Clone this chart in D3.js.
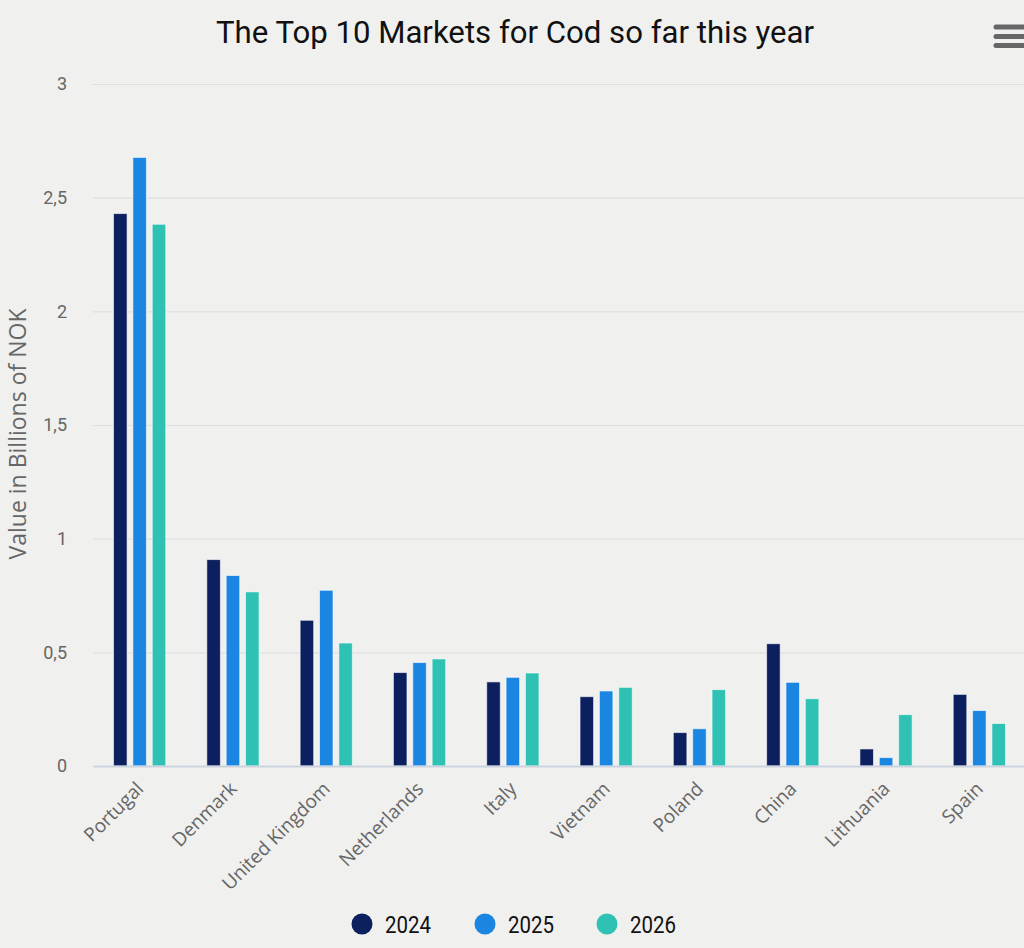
<!DOCTYPE html>
<html>
<head>
<meta charset="utf-8">
<script src="https://cdn.jsdelivr.net/npm/d3@7"></script>
<style>
  html, body { margin: 0; padding: 0; background: #f0f0ee; }
  svg { display: block; }
</style>
</head>
<body>
<svg id="chart" width="1024" height="948"></svg>
<script>
const categories = ['Portugal', 'Denmark', 'United Kingdom', 'Netherlands', 'Italy',
  'Vietnam', 'Poland', 'China', 'Lithuania', 'Spain'];
const seriesNames = ['2024', '2025', '2026'];
const values2024 = [2.43, 0.908, 0.641, 0.411, 0.370, 0.305, 0.147, 0.538, 0.075, 0.315];
const values2025 = [2.677, 0.838, 0.773, 0.455, 0.390, 0.330, 0.164, 0.368, 0.037, 0.244];
const values2026 = [2.383, 0.766, 0.541, 0.471, 0.409, 0.346, 0.336, 0.296, 0.226, 0.187];
const yTicks = [0, 0.5, 1, 1.5, 2, 2.5, 3];
const colors = ['#0c1f5e', '#1a86e2', '#2fc2b4'];

const seriesValues = [values2024, values2025, values2026];
const rows = categories.map((c, i) => ({
  name: c,
  vals: seriesNames.map((s, j) => ({ key: s, value: seriesValues[j][i] }))
}));

const svg = d3.select('#chart');
const margin = { top: 84, right: -2, bottom: 182, left: 93 };
const width = 1024 - margin.left - margin.right;
const height = 948 - margin.top - margin.bottom;

const x = d3.scaleBand().domain(categories).range([0, width]).paddingInner(0.44).paddingOuter(0.22);
const xInner = d3.scaleBand().domain(seriesNames).range([0, x.bandwidth()]).paddingInner(0.3);
const y = d3.scaleLinear().domain([0, 3]).range([height, 0]);
const color = d3.scaleOrdinal().domain(seriesNames).range(colors);
const fmt = d => String(d).replace('.', ',');

// title (reference font is condensed, so squeeze to its width)
svg.append('text')
  .attr('x', 515)
  .attr('y', 43)
  .attr('text-anchor', 'middle')
  .attr('textLength', 598)
  .attr('lengthAdjust', 'spacingAndGlyphs')
  .style('font-family', 'Roboto, sans-serif')
  .style('font-size', '32px')
  .style('fill', '#111')
  .text('The Top 10 Markets for Cod so far this year');

// menu icon
svg.append('g')
  .selectAll('line')
  .data([27, 36.5, 45.5])
  .join('line')
  .attr('x1', 996).attr('x2', 1030)
  .attr('y1', d => d).attr('y2', d => d)
  .attr('stroke', '#666')
  .attr('stroke-width', 5)
  .attr('stroke-linecap', 'round');

const g = svg.append('g').attr('transform', `translate(${margin.left},${margin.top})`);

// grid
g.append('g')
  .attr('class', 'grid')
  .call(d3.axisLeft(y).tickValues(yTicks).tickSize(-width).tickFormat(''))
  .call(s => s.select('.domain').remove())
  .call(s => s.selectAll('.tick line').attr('stroke', '#dedfdf').attr('stroke-width', 1.2));

// y axis labels
g.append('g')
  .call(d3.axisLeft(y).tickValues(yTicks).tickSize(0).tickPadding(26).tickFormat(fmt))
  .call(s => s.select('.domain').remove())
  .call(s => s.selectAll('text')
    .style('font-family', 'Roboto, sans-serif')
    .style('font-size', '18px')
    .style('fill', '#666'));

// bars
g.append('g')
  .selectAll('g')
  .data(rows)
  .join('g')
  .attr('transform', d => `translate(${x(d.name)},0)`)
  .selectAll('rect')
  .data(d => d.vals)
  .join('rect')
  .attr('x', d => xInner(d.key))
  .attr('width', xInner.bandwidth())
  .attr('y', d => y(d.value))
  .attr('height', d => y(0) - y(d.value))
  .attr('fill', d => color(d.key))
  .attr('stroke', '#ffffff')
  .attr('stroke-opacity', 0.6)
  .attr('stroke-width', 1);

// x axis
const xAxis = g.append('g')
  .attr('transform', `translate(0,${height})`)
  .call(d3.axisBottom(x).tickSize(0).tickPadding(0));
xAxis.select('.domain').attr('stroke', '#ccd4df').attr('stroke-width', 2);
xAxis.selectAll('text')
  .attr('text-anchor', 'end')
  .attr('dy', 0)
  .attr('transform', 'translate(5,24) rotate(-45)')
  .style('font-family', '"Open Sans", sans-serif')
  .style('font-size', '19px')
  .style('fill', '#666');

// y axis title
svg.append('text')
  .attr('transform', 'translate(26,434) rotate(-90)')
  .attr('text-anchor', 'middle')
  .style('font-family', '"Open Sans", sans-serif')
  .style('font-size', '23px')
  .style('fill', '#666')
  .text('Value in Billions of NOK');

// legend
const legendX = [362, 485, 607];
const legend = svg.append('g')
  .selectAll('g')
  .data(seriesNames)
  .join('g')
  .attr('transform', (d, i) => `translate(${legendX[i]},924)`);
legend.append('circle')
  .attr('r', 10.5)
  .attr('fill', d => color(d));
legend.append('text')
  .attr('x', 23)
  .attr('y', 8.5)
  .attr('textLength', 46)
  .attr('lengthAdjust', 'spacingAndGlyphs')
  .style('font-family', 'Roboto, sans-serif')
  .style('font-size', '23px')
  .style('fill', '#111')
  .text(d => d);
</script>
</body>
</html>
